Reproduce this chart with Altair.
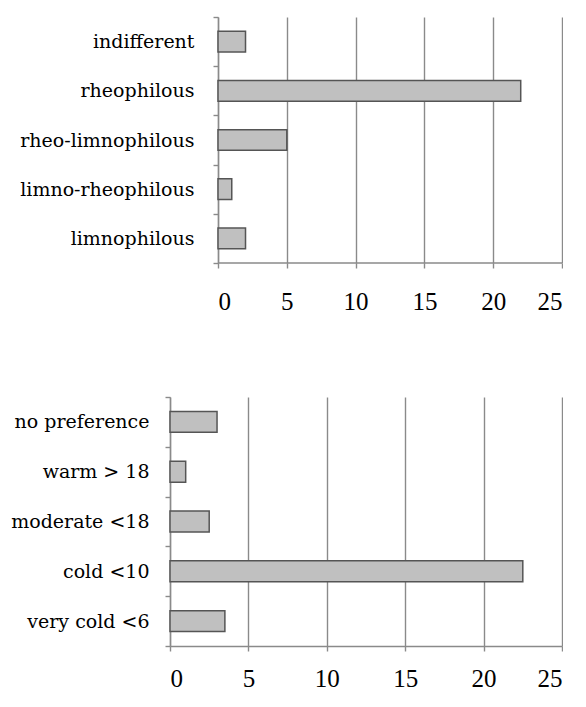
import altair as alt
import pandas as pd

top_cats = ["indifferent", "rheophilous", "rheo-limnophilous", "limno-rheophilous", "limnophilous"]
top_vals = [2, 22, 5, 1, 2]
bot_cats = ["no preference", "warm > 18", "moderate <18", "cold <10", "very cold <6"]
bot_vals = [3, 1, 2.5, 22.5, 3.5]
x_ticks = [0, 5, 10, 15, 20, 25]

FONT = "serif"
YFONT = "DejaVu Serif"
FS = 25
YFS = 19
GRID = "#8a8a8a"
W = 392


def panel(cats, vals, h, shift, ypad, xpad):
    df = pd.DataFrame({"cat": cats, "val": vals})
    xscale = alt.Scale(domain=[0, 25], nice=False, range=[shift, W])
    bars = alt.Chart(df).mark_bar(
        color="#c0c0c0", stroke="#555555", strokeWidth=1.5,
        height=alt.RelativeBandSize(0.42),
    ).encode(
        y=alt.Y(
            "cat:N", sort=cats, title=None,
            scale=alt.Scale(paddingInner=0, paddingOuter=0),
            axis=alt.Axis(
                tickBand="extent", grid=False, tickSize=5, tickColor=GRID, tickWidth=1.4,
                domainColor=GRID, domainWidth=1.4, labelPadding=ypad, offset=-shift,
                labelFont=YFONT, labelFontSize=YFS, labelColor="black", labelLimit=400,
            ),
        ),
        x=alt.X(
            "val:Q", title=None, scale=xscale,
            axis=alt.Axis(
                values=x_ticks, grid=True, gridColor=GRID, gridWidth=1.4,
                tickSize=5, tickColor=GRID, tickWidth=1.4,
                domain=(shift == 0), domainColor=GRID, domainWidth=1.4,
                labelPadding=xpad,
                labelFont=FONT, labelFontSize=FS, labelColor="black",
            ),
        ),
    )
    if shift == 0:
        return bars.properties(width=W, height=h)
    base_line = alt.Chart(pd.DataFrame({"a": [x_ticks[0]], "b": [x_ticks[-1]]})).mark_rule(
        color=GRID, strokeWidth=1.4
    ).encode(
        x=alt.X("a:Q", scale=xscale),
        x2="b:Q",
        y=alt.value(h),
    )
    return alt.layer(bars, base_line).properties(width=W, height=h)


top = panel(top_cats, top_vals, 246, 48, 19, 21)
bot = panel(bot_cats, bot_vals, 249, 0, 16, 15)

chart = alt.vconcat(
    top, bot, spacing=74,
    padding={"top": 0, "left": 2, "right": 0, "bottom": 0},
).configure(
    background="white", font=FONT
).configure_axis(
    labelFont=FONT, labelFontSize=FS
).configure_view(stroke=None)

chart.save("out.html", embed_options={"renderer": "svg", "actions": False})
